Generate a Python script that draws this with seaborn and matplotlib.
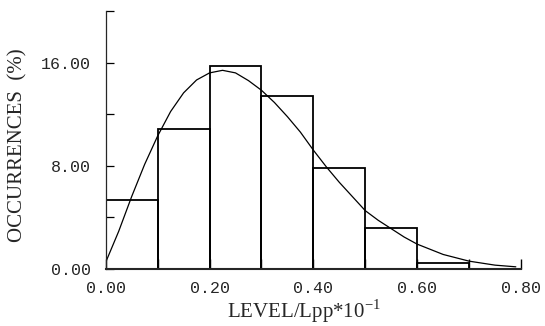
import numpy as np
import pandas as pd
import matplotlib
matplotlib.use("Agg")
import matplotlib.pyplot as plt
from matplotlib.ticker import MultipleLocator, FormatStrFormatter
import seaborn as sns

# histogram of levels (bin edges 0.0 .. 0.7, step 0.1)
bin_edges = [0.0, 0.1, 0.2, 0.3, 0.4, 0.5, 0.6, 0.7]
bin_centers = [0.05, 0.15, 0.25, 0.35, 0.45, 0.55, 0.65]
occurrences = [5.35, 10.87, 15.72, 13.40, 7.83, 3.12, 0.46]

# fitted curve
curve_x = [0.0, 0.025, 0.05, 0.075, 0.1, 0.125, 0.15, 0.175, 0.2, 0.225,
           0.25, 0.275, 0.3, 0.325, 0.35, 0.375, 0.4, 0.425, 0.45, 0.475,
           0.5, 0.525, 0.55, 0.575, 0.6, 0.65, 0.7, 0.75, 0.79]
curve_y = [0.5, 2.9, 5.6, 8.1, 10.3, 12.2, 13.65, 14.65, 15.2, 15.4,
           15.2, 14.6, 13.85, 12.9, 11.8, 10.6, 9.2, 7.9, 6.7, 5.6,
           4.5, 3.75, 3.1, 2.45, 1.9, 1.1, 0.58, 0.27, 0.14]

hist_df = pd.DataFrame({"level": bin_centers, "occ": occurrences})
curve_df = pd.DataFrame({"level": curve_x, "occ": curve_y})

sns.set_style("ticks")
plt.rcParams["font.family"] = ["Liberation Mono", "DejaVu Sans"]
plt.rcParams["mathtext.fontset"] = "custom"
plt.rcParams["mathtext.rm"] = "Liberation Serif"

fig, ax = plt.subplots(figsize=(5.45, 3.26), dpi=100)
fig.subplots_adjust(left=0.194, right=0.956, bottom=0.176, top=0.966)

sns.histplot(data=hist_df, x="level", weights="occ", bins=bin_edges,
             fill=False, element="bars", color="black", linewidth=1.3, ax=ax)
sns.lineplot(data=curve_df, x="level", y="occ", color="black",
             linewidth=0.9, ax=ax)

ax.set_xlim(0, 0.8)
ax.set_ylim(0, 20)
sns.despine(ax=ax)
ax.spines["left"].set_linewidth(0.9)
ax.spines["bottom"].set_linewidth(1.5)

ax.xaxis.set_major_locator(MultipleLocator(0.2))
ax.xaxis.set_minor_locator(MultipleLocator(0.1))
ax.xaxis.set_major_formatter(FormatStrFormatter("%.2f"))
ax.yaxis.set_major_locator(MultipleLocator(8))
ax.yaxis.set_minor_locator(MultipleLocator(4))
ax.yaxis.set_major_formatter(FormatStrFormatter("%.2f"))

ax.tick_params(axis="x", which="both", direction="in", length=7, width=1.0,
               pad=9, labelsize=12, color="black")
ax.tick_params(axis="y", which="both", direction="in", length=6, width=0.9,
               pad=10.5, labelsize=12, color="black")

ax.set_xlabel(r"LEVEL/Lpp*10$^{\mathregular{-1}}$", family="Liberation Serif",
              fontsize=15)
ax.set_ylabel("OCCURRENCES  (%)", family="Liberation Serif", fontsize=15)
ax.xaxis.set_label_coords(0.477, -0.112)
ax.yaxis.set_label_coords(-0.188, 0.48)

fig.savefig("out.png", dpi=100, facecolor="white")
